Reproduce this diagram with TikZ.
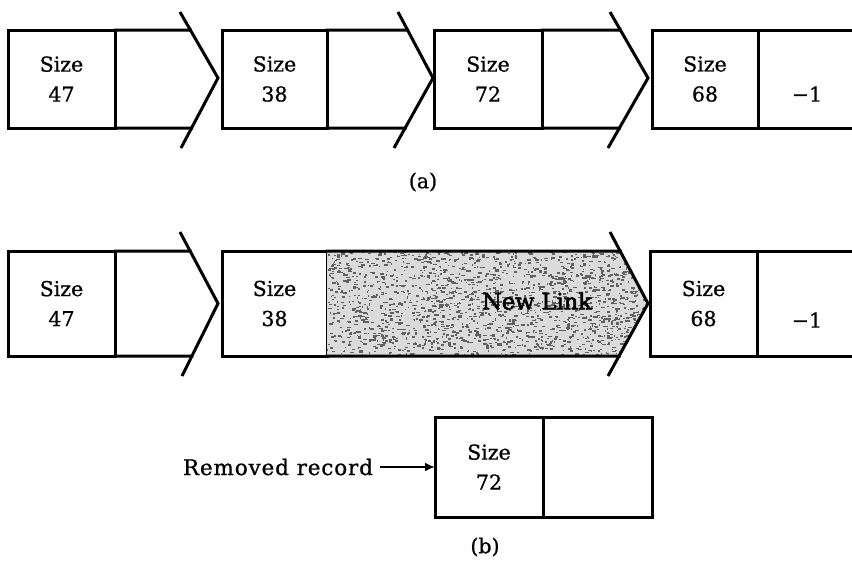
\documentclass[tikz,border=0pt]{standalone}
\usepackage{fontspec}
\setmainfont{DejaVu Serif}[FakeBold=0.9]
\newfontfamily\linkfont{DejaVu Serif}[FakeBold=2.6]
\usetikzlibrary{arrows.meta,calc}
\begin{document}
\begin{tikzpicture}[x=1pt,y=-1pt,
  cell/.style={draw, line width=3pt, inner sep=0pt, outer sep=0pt, align=center,
    font=\fontsize{20.5}{30}\selectfont},
  wire/.style={line width=3pt, line cap=rect},
  slash/.style={line width=3pt, line join=miter},
  txt/.style={inner sep=0pt, outer sep=0pt, font=\fontsize{20.5}{24}\selectfont},
  shade/.style={fill=black!14}]
\useasboundingbox (0,0) rectangle (852,562);
\coordinate (edge) at (852,0);

% ---------- (a) the full list ----------
\node[cell, minimum width=107pt, minimum height=98pt] (a1) at (61.5,79) {Size\\47};
\node[cell, minimum width=105pt, minimum height=98pt] (a2) at (274.5,79) {Size\\38};
\node[cell, minimum width=108pt, minimum height=98pt] (a3) at (488,79) {Size\\72};
\node[cell, minimum width=106pt, minimum height=98pt] (a4) at (705,79) {Size\\68};

% link fields drawn as open arrows
\foreach \r/\tx/\ux/\dx in {a1/218/180/181, a2/433/398/394, a3/648/610/608}{
  \coordinate (\r tip) at (\tx,78);
  \coordinate (\r up) at (\ux,12);
  \coordinate (\r dn) at (\dx,148);
  \coordinate (\r ct) at (intersection of \r.north west--\r.north east and \r up--\r tip);
  \coordinate (\r cb) at (intersection of \r.south west--\r.south east and \r dn--\r tip);
  \draw[wire] (\r.north east) -- (\r ct);
  \draw[wire] (\r.south east) -- (\r cb);
  \draw[slash] (\r up) -- (\r tip) -- (\r dn);
}
% last record: link field holds -1
\draw[wire] (a4.north east) -- (a4.north east -| edge);
\draw[wire] (a4.south east) -- (a4.south east -| edge);
\node[txt] (a4n) at (807,94) {−1};
\node[txt] (alab) at (423,182) {(a)};

% ---------- (b) after removing the record ----------
\node[cell, minimum width=107pt, minimum height=105pt] (b1) at (61.5,303.5) {Size\\47};
\node[cell, minimum width=105pt, minimum height=105pt] (b2) at (274.5,303.5) {Size\\38};
\node[cell, minimum width=107pt, minimum height=105pt] (b4) at (703.5,303.5) {Size\\68};

\foreach \r/\tx/\ux/\dx in {b1/218/180/182, b2/648/610/608}{
  \coordinate (\r tip) at (\tx,303.5);
  \coordinate (\r up) at (\ux,232);
  \coordinate (\r dn) at (\dx,376);
  \coordinate (\r ct) at (intersection of \r.north west--\r.north east and \r up--\r tip);
  \coordinate (\r cb) at (intersection of \r.south west--\r.south east and \r dn--\r tip);
}
% shaded new link field
\fill[shade] (b2.north east) -- (b2ct) -- (b2tip) -- (b2cb) -- (b2.south east) -- cycle;
\begin{scope}
  \clip (b2.north east) -- (b2ct) -- (b2tip) -- (b2cb) -- (b2.south east) -- cycle;
  \pgfmathsetseed{4711}
  \foreach \i in {1,...,2000}{
    \pgfmathsetmacro\px{327+rnd*322}
    \pgfmathsetmacro\py{250+rnd*108}
    \pgfmathsetmacro\pw{0.8+rnd*3.2}
    \pgfmathsetmacro\ph{0.8+rnd*1.4}
    \fill[black!62] (\px,\py) rectangle ++(\pw,\ph);
  }
\end{scope}
\foreach \r in {b1, b2}{
  \draw[wire] (\r.north east) -- (\r ct);
  \draw[wire] (\r.south east) -- (\r cb);
  \draw[slash] (\r up) -- (\r tip) -- (\r dn);
}
\node[txt, font=\fontsize{22.5}{24}\linkfont] (newlink) at (537,301) {New Link};

\draw[wire] (b4.north east) -- (b4.north east -| edge);
\draw[wire] (b4.south east) -- (b4.south east -| edge);
\node[txt] (b4n) at (807,320) {−1};

% removed record
\node[cell, minimum width=108pt, minimum height=100pt] (r1) at (489,467) {Size\\72};
\node[cell, minimum width=109pt, minimum height=100pt] (r1p) at (597.5,467) {};
\node[txt, anchor=east, font=\fontsize{21.5}{24}\selectfont\addfontfeature{LetterSpace=4}] (rlab) at (373,467) {Removed record};
\draw[line width=2.2pt, -{Latex[length=10pt,width=9pt]}] ([xshift=7pt]rlab.east) -- (r1.west);
\node[txt] (blab) at (485,547) {(b)};
\end{tikzpicture}
\end{document}
